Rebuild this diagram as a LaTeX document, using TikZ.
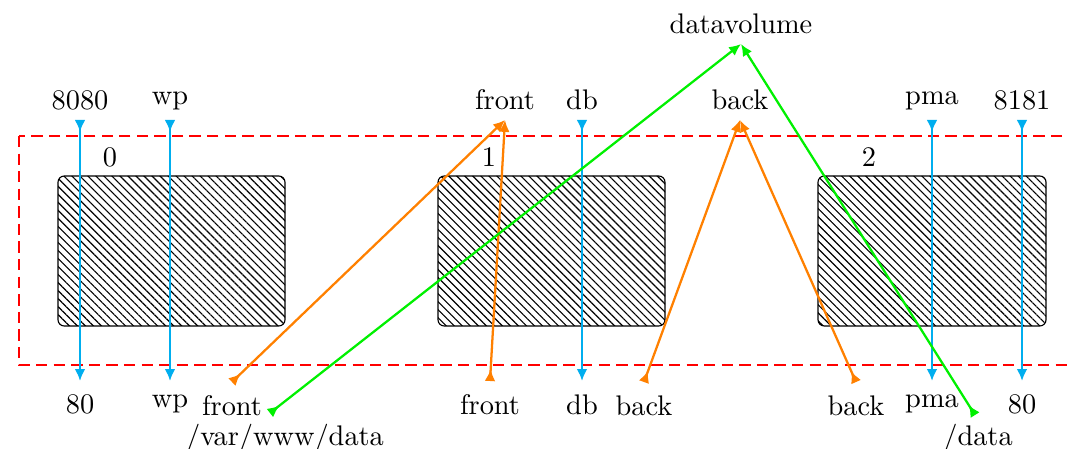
\documentclass[tikz,border=0pt]{standalone}
\usetikzlibrary{arrows.meta,patterns.meta}
\definecolor{myblue}{RGB}{0,174,239}
\definecolor{myorange}{RGB}{255,128,0}
\definecolor{mygreen}{RGB}{0,240,0}
\tikzset{
  tipped/.style={line width=0.8pt,
    {Latex[reversed,length=4.2pt,width=3.8pt]}-{Latex[length=4.2pt,width=3.8pt]}},
  bluearr/.style={tipped,draw=myblue,fill=myblue},
  orangearr/.style={tipped,draw=myorange,fill=myorange},
  greenarr/.style={tipped,draw=mygreen,fill=mygreen},
  hostbox/.style={draw=black,line width=0.4pt,rounded corners=2.2pt,
    pattern={Lines[angle=-45,distance=2pt,line width=0.4pt]}},
  netbox/.style={draw=red,line width=0.75pt,dash pattern=on 4pt off 2.2pt},
  toplab/.style={anchor=south,inner xsep=0pt,inner ysep=3.4pt},
  botlab/.style={anchor=north,inner xsep=0pt,inner ysep=4.6pt},
  plainlab/.style={inner sep=0pt}
}
\begin{document}
\begin{tikzpicture}[x=0.3527pt,y=-0.3527pt]
\useasboundingbox (0,0) rectangle (1068,449);
% network area
\draw[netbox] (19,136) rectangle (1085,365);
% hosts
\draw[hostbox] (58,176) rectangle (285,326);
\draw[hostbox] (438,176) rectangle (665,326);
\draw[hostbox] (818,176) rectangle (1046,326);
\node[plainlab] (h0) at (110,157) {0};
\node[plainlab] (h1) at (489,157) {1};
\node[plainlab] (h2) at (869,157) {2};
% top labels
\node[toplab] (t8080) at (80,120) {8080};
\node[toplab] (twp) at (170,120) {wp};
\node[toplab] (tfront) at (505,120) {front};
\node[toplab] (tdb) at (582,120) {db};
\node[toplab] (tback) at (740,120) {back};
\node[toplab] (tpma) at (932,120) {pma};
\node[toplab] (t8181) at (1022,120) {8181};
\node[toplab] (tdv) at (741,44) {datavolume};
% bottom labels
\node[botlab] (b80) at (80,381) {80};
\node[botlab] (bwp) at (170,381) {wp};
\node[botlab] (bfront1) at (232,382) {front};
\node[botlab] (bfront2) at (490,381) {front};
\node[botlab] (bdb) at (582,381) {db};
\node[botlab] (bback1) at (644,382) {back};
\node[botlab] (bback2) at (856,382) {back};
\node[botlab] (bpma) at (932,381) {pma};
\node[botlab] (b80b) at (1022,381) {80};
\node[plainlab] (bvar) at (285,438) {/var/www/data};
\node[plainlab] (bdata) at (978,438) {/data};
\coordinate (gvar) at (270,413);
\coordinate (gdata) at (975,415);
% port / name mappings
\draw[bluearr] (t8080.south) -- (b80.north);
\draw[bluearr] (twp.south) -- (bwp.north);
\draw[bluearr] (tdb.south) -- (bdb.north);
\draw[bluearr] (tpma.south) -- (bpma.north);
\draw[bluearr] (t8181.south) -- (b80b.north);
% networks
\draw[orangearr] (bfront1.north) -- (tfront.south);
\draw[orangearr] (bfront2.north) -- (tfront.south);
\draw[orangearr] (bback1.north) -- (tback.south);
\draw[orangearr] (bback2.north) -- (tback.south);
% volumes
\draw[greenarr] (gvar) -- (tdv.south);
\draw[greenarr] (gdata) -- (tdv.south);
\end{tikzpicture}
\end{document}
